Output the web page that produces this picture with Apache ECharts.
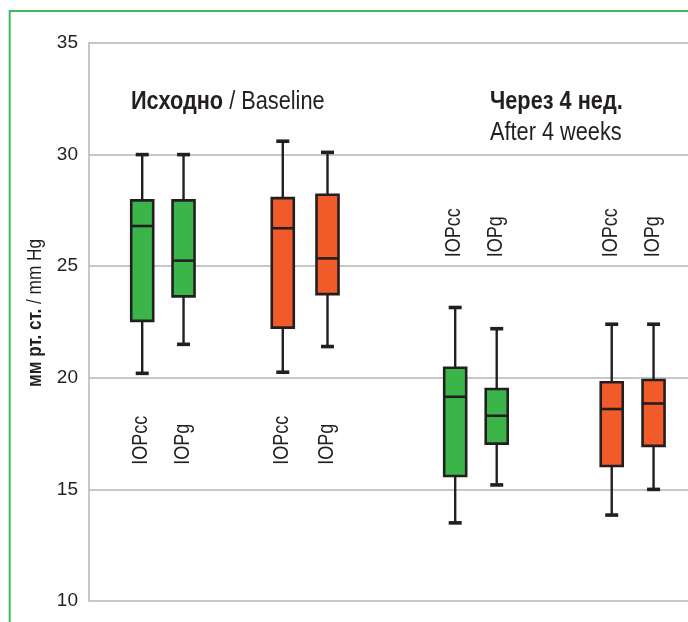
<!DOCTYPE html>
<html><head><meta charset="utf-8">
<script src="https://cdn.jsdelivr.net/npm/echarts@6/dist/echarts.min.js"></script>
<style>html,body{margin:0;padding:0;background:#fff}#c{width:688px;height:622px}</style>
</head><body><div id="c"></div>
<script>
// ---- data ----
const boxLabels = ['IOPcc', 'IOPg', 'IOPcc', 'IOPg'];
const yTicks = [10, 15, 20, 25, 30, 35];
// each box: [min, Q1, median, Q3, max]
const greenBaseline = [[20.2, 22.55, 26.8, 27.95, 30.0], [21.5, 23.65, 25.25, 27.95, 30.0]];
const orangeBaseline = [[20.25, 22.25, 26.7, 28.05, 30.6], [21.4, 23.75, 25.35, 28.2, 30.1]];
const greenWeek4 = [[13.5, 15.6, 19.15, 20.45, 23.15], [15.2, 17.05, 18.3, 19.5, 22.2]];
const orangeWeek4 = [[13.85, 16.05, 18.6, 19.8, 22.4], [15.0, 16.95, 18.85, 19.9, 22.4]];
const titleBaselineBold = 'Исходно';
const titleBaselineRest = ' / Baseline';
const titleWeek4Bold = 'Через 4 нед.';
const titleWeek4Rest = 'After 4 weeks';
const yAxisTitleBold = 'мм рт. ст.';
const yAxisTitleRest = ' / mm Hg';

// ---- layout (slot positions on a hidden 0..60 x scale; label anchor values) ----
const slotGreen = [5.33, 9.47, 36.68, 40.84];
const slotOrange = [19.41, 23.89, 52.36, 56.55];
const labelAnchor = [16.1, 16.1, 25.4, 25.4];

const FONT = '"Liberation Sans", Arial, sans-serif';
const INK = '#231f20';
const COND = 0.82; // horizontal squeeze to mimic the condensed face

function rows(slots, boxes) {
  return boxes.map((b, i) => [slots[i]].concat(b).concat([labelAnchor[i], boxLabels[i]]));
}
const greenData = rows(slotGreen, greenBaseline.concat(greenWeek4));
const orangeData = rows(slotOrange, orangeBaseline.concat(orangeWeek4));

function makeRender(color) {
  return function (params, api) {
    const x = api.value(0);
    const pMin = api.coord([x, api.value(1)]);
    const yQ1 = api.coord([x, api.value(2)])[1];
    const yMed = api.coord([x, api.value(3)])[1];
    const yQ3 = api.coord([x, api.value(4)])[1];
    const yMax = api.coord([x, api.value(5)])[1];
    const pLab = api.coord([x, api.value(6)]);
    const cx = pMin[0], yMin = pMin[1];
    const bw = 22, cap = 13;
    const ln = { stroke: INK, lineWidth: 2.4 };
    const capS = { stroke: INK, lineWidth: 3.6 };
    return {
      type: 'group',
      children: [
        { type: 'line', shape: { x1: cx, y1: yMax, x2: cx, y2: yQ3 }, style: ln },
        { type: 'line', shape: { x1: cx, y1: yQ1, x2: cx, y2: yMin }, style: ln },
        { type: 'line', shape: { x1: cx - cap / 2, y1: yMax, x2: cx + cap / 2, y2: yMax }, style: capS },
        { type: 'line', shape: { x1: cx - cap / 2, y1: yMin, x2: cx + cap / 2, y2: yMin }, style: capS },
        { type: 'rect', shape: { x: cx - bw / 2, y: yQ3, width: bw, height: yQ1 - yQ3 },
          style: { fill: color, stroke: INK, lineWidth: 2.6 } },
        { type: 'line', shape: { x1: cx - bw / 2, y1: yMed, x2: cx + bw / 2, y2: yMed }, style: { stroke: INK, lineWidth: 2.6 } },
        { type: 'text', x: pLab[0] - 1, y: pLab[1], rotation: Math.PI / 2, scaleX: COND,
          style: { text: api.value(7), font: '22px ' + FONT, fill: INK, align: 'left', verticalAlign: 'middle' } }
      ]
    };
  };
}

const richBold = { b: { fontFamily: FONT, fontWeight: 'bold', fill: INK } };

const chart = echarts.init(document.getElementById('c'), null, { renderer: 'canvas' });
chart.setOption({
  animation: false,
  backgroundColor: '#fff',
  grid: { left: 89, right: 0, top: 43, bottom: 21 },
  xAxis: { type: 'value', min: 0, max: 60, show: false },
  yAxis: {
    type: 'value', min: yTicks[0], max: yTicks[yTicks.length - 1], interval: 5,
    axisLine: { show: true, lineStyle: { color: '#b5b5b5', width: 1.5 } },
    axisTick: { show: false },
    splitLine: { show: true, lineStyle: { color: '#b5b5b5', width: 1.5 } },
    axisLabel: { fontSize: 19, fontFamily: FONT, color: INK, margin: 11 }
  },
  graphic: [
    { type: 'rect', shape: { x: 9.7, y: 11, width: 720, height: 700 },
      style: { fill: 'none', stroke: '#3fb95a', lineWidth: 2 }, silent: true },
    { type: 'text', x: 131, y: 102, scaleX: COND, silent: true,
      style: { text: '{b|' + titleBaselineBold + '}' + titleBaselineRest, fontSize: 26.5, fontFamily: FONT, fill: INK,
        align: 'left', verticalAlign: 'middle', rich: { b: { fontSize: 26.5, fontFamily: FONT, fontWeight: 'bold', fill: INK } } } },
    { type: 'text', x: 490, y: 102, scaleX: COND, silent: true,
      style: { text: titleWeek4Bold, fontSize: 26.5, fontFamily: FONT, fontWeight: 'bold', fill: INK,
        align: 'left', verticalAlign: 'middle' } },
    { type: 'text', x: 490, y: 133, scaleX: COND, silent: true,
      style: { text: titleWeek4Rest, fontSize: 26.5, fontFamily: FONT, fill: INK,
        align: 'left', verticalAlign: 'middle' } },
    { type: 'text', x: 35, y: 313, rotation: Math.PI / 2, scaleX: COND, silent: true,
      style: { text: '{b|' + yAxisTitleBold + '}' + yAxisTitleRest, fontSize: 21, fontFamily: FONT, fill: INK,
        align: 'center', verticalAlign: 'middle', rich: { b: { fontSize: 21, fontFamily: FONT, fontWeight: 'bold', fill: INK } } } }
  ],
  series: [
    { type: 'custom', name: 'green', data: greenData, renderItem: makeRender('#3bb54a'),
      encode: { x: 0, y: [1, 2, 3, 4, 5] } },
    { type: 'custom', name: 'orange', data: orangeData, renderItem: makeRender('#f15a29'),
      encode: { x: 0, y: [1, 2, 3, 4, 5] } }
  ]
});
</script>
</body></html>
